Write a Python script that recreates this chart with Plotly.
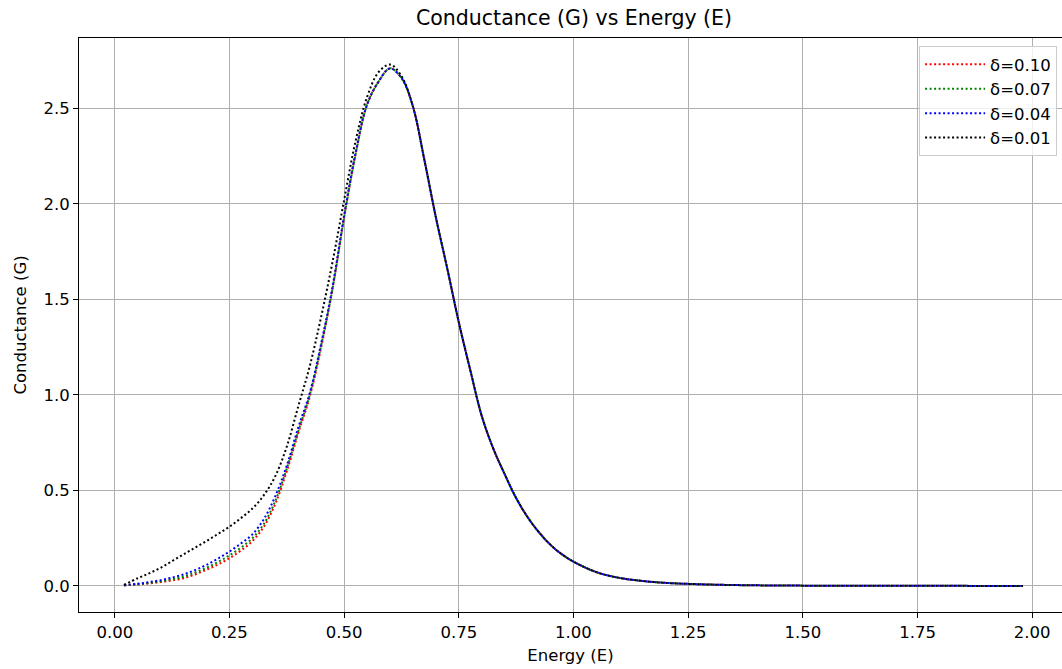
import plotly.graph_objects as go

##################################################
# energy grid (E) and conductance values (G)
energy = [0.02, 0.05, 0.075, 0.10, 0.125, 0.15, 0.175, 0.20, 0.225, 0.25,
          0.275, 0.30, 0.325, 0.35, 0.375, 0.40, 0.425, 0.45, 0.475, 0.50,
          0.525, 0.55, 0.575, 0.60, 0.625, 0.65, 0.675, 0.70, 0.725, 0.75,
          0.775, 0.80, 0.825, 0.85, 0.875, 0.90, 0.925, 0.95, 0.975, 1.00,
          1.05, 1.10, 1.15, 1.20, 1.30, 1.40, 1.50, 1.75, 1.98]

g_tail = [2.52, 2.64, 2.71, 2.66, 2.51, 2.23, 1.93, 1.66, 1.38,
          1.13, 0.89, 0.72, 0.585, 0.46, 0.36, 0.28, 0.215, 0.165, 0.127,
          0.072, 0.042, 0.026, 0.016, 0.007, 0.003, 0.0015, 0.0004, 0.0001]

g_d010 = [0.003, 0.008, 0.013, 0.020, 0.029, 0.040, 0.060, 0.085, 0.112, 0.145,
          0.185, 0.235, 0.31, 0.43, 0.60, 0.80, 0.99, 1.25, 1.56, 1.93,
          2.26] + g_tail

g_d007 = [0.003, 0.009, 0.016, 0.024, 0.035, 0.048, 0.070, 0.095, 0.125, 0.160,
          0.200, 0.250, 0.325, 0.445, 0.615, 0.81, 1.00, 1.26, 1.56, 1.93,
          2.26] + g_tail

g_d004 = [0.004, 0.011, 0.020, 0.030, 0.044, 0.060, 0.083, 0.110, 0.143, 0.180,
          0.222, 0.270, 0.35, 0.47, 0.63, 0.83, 1.01, 1.27, 1.57, 1.94,
          2.27] + g_tail

g_d001 = [0.005, 0.040, 0.066, 0.095, 0.130, 0.165, 0.200, 0.235, 0.272, 0.310,
          0.355, 0.405, 0.475, 0.575, 0.73, 0.94, 1.15, 1.41, 1.70, 2.02,
          2.33, 2.56, 2.69, 2.73, 2.67, 2.51, 2.23, 1.93, 1.66, 1.38,
          1.13, 0.89, 0.72, 0.585, 0.46, 0.36, 0.28, 0.215, 0.165, 0.127,
          0.072, 0.042, 0.026, 0.016, 0.007, 0.003, 0.0015, 0.0004, 0.0001]

series = [
    ("δ=0.10", g_d010, "red"),
    ("δ=0.07", g_d007, "green"),
    ("δ=0.04", g_d004, "blue"),
    ("δ=0.01", g_d001, "black"),
]

##################################################
fig = go.Figure()
for name, vals, color in series:
    fig.add_trace(go.Scatter(
        x=energy, y=vals, mode="lines", name=name,
        line=dict(color=color, width=2, dash="2px,2.5px", shape="spline", smoothing=1.0),
    ))

FONT = "DejaVu Sans"
axis_style = dict(
    showline=True, linecolor="black", linewidth=1, mirror=True,
    ticks="outside", ticklen=5, tickcolor="black",
    showgrid=True, gridcolor="#b0b0b0", gridwidth=1,
    zeroline=False,
    tickfont=dict(family=FONT, size=16.5, color="black"),
)

fig.update_xaxes(axis_style, range=[-0.078, 2.065], tick0=0, dtick=0.25, tickformat=".2f",
                 title=dict(text="Energy (E)", standoff=8,
                            font=dict(family=FONT, size=16.5, color="black")))
fig.update_yaxes(axis_style, range=[-0.1366, 2.869], tick0=0, dtick=0.5, tickformat=".1f",
                 title=dict(text="Conductance (G)", standoff=12,
                            font=dict(family=FONT, size=16.5, color="black")))

fig.update_layout(
    autosize=False, width=1062, height=669,
    margin=dict(l=79, r=0, t=38, b=57),
    paper_bgcolor="white", plot_bgcolor="white",
    font=dict(family=FONT, color="black"),
    title=dict(text="Conductance (G) vs Energy (E)", x=0.5036, xref="paper", xanchor="center",
               y=1 - 18 / 669, yref="container", yanchor="middle",
               font=dict(family=FONT, size=20.5, color="black")),
    legend=dict(x=0.995, y=0.986, xanchor="right", yanchor="top", itemwidth=60,
                bgcolor="rgba(255,255,255,0.8)", bordercolor="#cccccc", borderwidth=1,
                font=dict(family=FONT, size=16.5, color="black")),
    showlegend=True,
)

# no body margin so the 1062x669 figure fills the window exactly
fig.write_html("out.html", config={"displayModeBar": False},
               post_script="document.body.style.margin='0';")
